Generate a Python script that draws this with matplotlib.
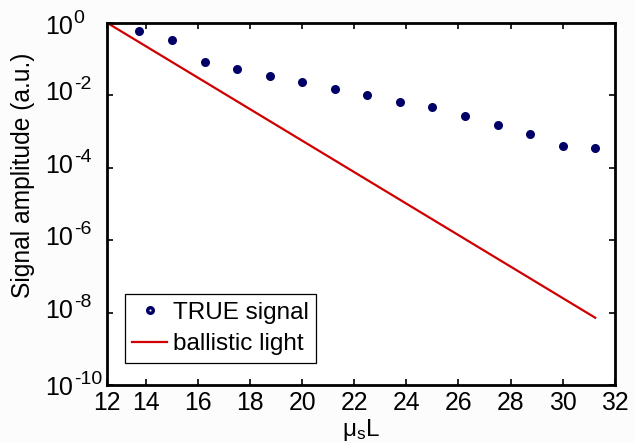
import matplotlib
matplotlib.use("Agg")
import matplotlib.pyplot as plt
from matplotlib.lines import Line2D

# ---- data ----
mus_L = [13.75, 15.0, 16.25, 17.5, 18.75, 20.0, 21.25, 22.5, 23.75, 25.0,
         26.25, 27.5, 28.75, 30.0, 31.25]
true_signal = [0.59, 0.327, 0.0807, 0.0527, 0.0338, 0.0235, 0.0145, 0.0103,
               0.0066, 0.0048, 0.00261, 0.0015, 0.00083, 0.000403, 0.000341]
ballistic_x = [12.5, 31.25]
ballistic_y = [1.0, 7.2e-9]
xtick_pos = [12.5, 14, 16, 18, 20, 22, 24, 26, 28, 30, 32]
xtick_labels = ['12', '14', '16', '18', '20', '22', '24', '26', '28', '30', '32']
ytick_pos = [1e0, 1e-2, 1e-4, 1e-6, 1e-8, 1e-10]
ytick_base = '10'
ytick_exponents = ['0', '-2', '-4', '-6', '-8', '-10']

plt.rcParams['font.family'] = ['Liberation Sans', 'DejaVu Sans']
plt.rcParams['mathtext.fontset'] = 'custom'
plt.rcParams['mathtext.rm'] = 'Liberation Sans'
plt.rcParams['mathtext.it'] = 'Liberation Sans'
plt.rcParams['mathtext.default'] = 'regular'

navy = '#000066'
red = '#d00000'
bg = '#fcfcfc'

fig = plt.figure(figsize=(6.34, 4.43), dpi=100, facecolor=bg)
ax = fig.add_axes([0.1686, 0.1309, 0.801, 0.8179], facecolor='white')

ax.plot(mus_L, true_signal, linestyle='none', marker='o', markersize=6.5,
        color=navy, markeredgewidth=0)
ax.plot(ballistic_x, ballistic_y, color=red, linewidth=1.6)

ax.set_yscale('log')
ax.set_xlim(12.5, 32)
ax.set_ylim(1e-10, 1e0)
ax.set_xticks(xtick_pos)
ax.set_xticklabels(xtick_labels)
ax.set_yticks(ytick_pos)
ax.set_yticklabels([])
ax.yaxis.set_minor_locator(matplotlib.ticker.NullLocator())

ax.tick_params(direction='in', top=True, right=True, length=4, width=1.2,
               labelsize=17.8, pad=4, colors='black')
for s in ax.spines.values():
    s.set_linewidth(2.0)

# y tick labels drawn as base + raised exponent
base_drop = [11, 4.5, 5, 5, 5.5, 10]  # px below tick for the baseline of "10"
ytrans = ax.get_yaxis_transform()
for yv, ex, dr in zip(ytick_pos, ytick_exponents, base_drop):
    ax.annotate(ytick_base, xy=(0, yv), xycoords=ytrans,
                xytext=(-33.6, -dr), textcoords='offset pixels',
                ha='right', va='baseline', fontsize=18, annotation_clip=False)
    ax.annotate(ex, xy=(0, yv), xycoords=ytrans,
                xytext=(-33.2, -dr + 11), textcoords='offset pixels',
                ha='left', va='baseline', fontsize=14, annotation_clip=False)

ax.set_ylabel('Signal amplitude (a.u.)', fontsize=17.7)
ax.yaxis.set_label_coords(-0.1416, 0.58)
ax.set_xlabel(r'$\mu_s$L', fontsize=17.5, labelpad=1.8)

h1 = Line2D([], [], linestyle='none', marker='o', markersize=6.5, color=navy,
            markeredgewidth=0)
h1b = Line2D([], [], linestyle='none', marker='o', markersize=1.5, color='white',
             markeredgewidth=0)
h2 = Line2D([], [], color=red, linewidth=1.6)
leg = ax.legend([(h1, h1b), h2], ['TRUE signal', 'ballistic light'],
                loc='lower left', bbox_to_anchor=(0.035, 0.062),
                fontsize=17.5, frameon=True, fancybox=False, framealpha=1,
                edgecolor='black', borderpad=0.3, labelspacing=0.4,
                handlelength=1.45, handletextpad=0.25, borderaxespad=0)
leg.get_frame().set_linewidth(0.9)

fig.savefig('out.png', dpi=100, facecolor=bg)
